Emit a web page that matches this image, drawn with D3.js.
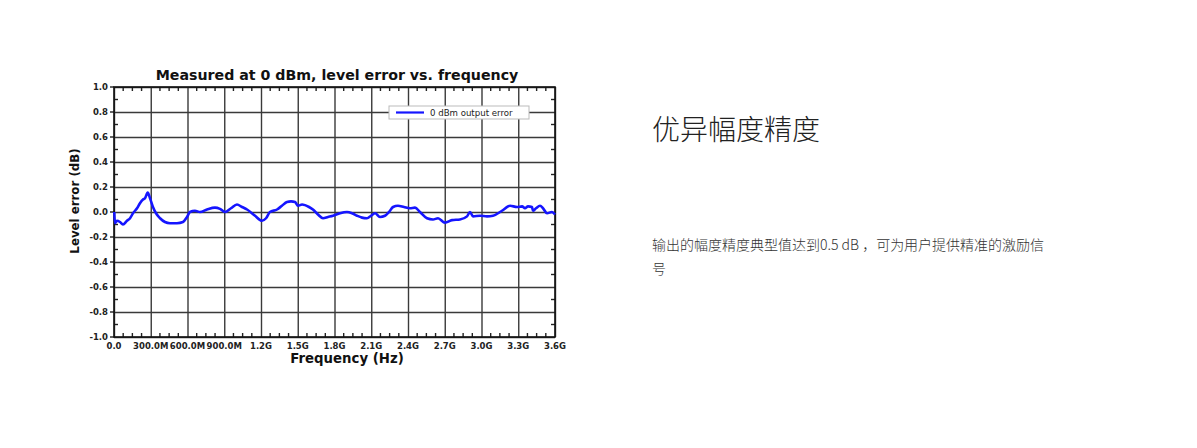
<!DOCTYPE html>
<html><head><meta charset="utf-8">
<script src="https://cdn.jsdelivr.net/npm/d3@7/dist/d3.min.js"></script>
<style>body{margin:0;background:#fff}svg{display:block}</style>
</head><body>
<svg id="c" width="1197" height="448"></svg>
<script>
const chartTitle = "Measured at 0 dBm, level error vs. frequency";
const xTitle = "Frequency (Hz)";
const yTitle = "Level error (dB)";
const seriesName = "0 dBm output error";
const freqMHz = [2,8,24,49,73,106,131,155,188,212,237,253,275,294,318,343,376,416,457,514,563,596,620,661,702,759,824,865,906,955,1004,1045,1086,1151,1208,1241,1273,1331,1371,1412,1445,1478,1502,1535,1559,1592,1624,1665,1706,1747,1788,1845,1902,1943,1984,2024,2065,2098,2131,2171,2212,2245,2278,2318,2367,2416,2457,2498,2555,2604,2645,2702,2759,2824,2882,2906,2931,2988,3045,3094,3167,3233,3290,3331,3355,3380,3412,3420,3445,3478,3502,3535,3575,3600];
const levelErr = [0.0,-0.09,-0.07,-0.08,-0.1,-0.07,-0.05,-0.01,0.03,0.07,0.1,0.11,0.155,0.11,0.04,-0.01,-0.05,-0.08,-0.09,-0.09,-0.08,-0.04,0.0,0.01,0.0,0.02,0.035,0.025,0.0,0.03,0.06,0.04,0.02,-0.03,-0.07,-0.05,0.0,0.02,0.05,0.08,0.085,0.08,0.05,0.06,0.055,0.04,0.02,-0.02,-0.05,-0.04,-0.03,-0.01,0.0,-0.01,-0.03,-0.045,-0.05,-0.03,-0.01,-0.04,-0.03,0.0,0.04,0.05,0.04,0.03,0.035,0.0,-0.05,-0.06,-0.05,-0.085,-0.065,-0.06,-0.035,0.0,-0.035,-0.03,-0.035,-0.03,0.01,0.05,0.04,0.045,0.03,0.045,0.04,0.01,0.03,0.05,0.03,-0.01,0.0,-0.02];
const xTicks = [0,300,600,900,1200,1500,1800,2100,2400,2700,3000,3300,3600];
const xTickLabels = ["0.0","300.0M","600.0M","900.0M","1.2G","1.5G","1.8G","2.1G","2.4G","2.7G","3.0G","3.3G","3.6G"];
const yTicks = [1.0,0.8,0.6,0.4,0.2,0.0,-0.2,-0.4,-0.6,-0.8,-1.0];
const yTickLabels = ["1.0","0.8","0.6","0.4","0.2","0.0","-0.2","-0.4","-0.6","-0.8","-1.0"];
const heading = "优异幅度精度";
const bodyLines = ["输出的幅度精度典型值达到0.5 dB ，可为用户提供精准的激励信","号"];

const svg = d3.select("#c");
const L=114, R=555, T=87, B=337;
const x = d3.scaleLinear().domain([0,3600]).range([L,R]);
const y = d3.scaleLinear().domain([-1,1]).range([B,T]);
const g = svg.append("g");
const F = "'DejaVu Sans', Verdana, sans-serif";

// grid
g.append("g").attr("transform",`translate(0,${B})`)
  .call(d3.axisBottom(x).tickValues(xTicks).tickSize(-(B-T)).tickFormat(""))
  .call(a=>{a.select(".domain").remove();a.selectAll("line").attr("stroke","#3a3a3a").attr("stroke-width",1.4);});
g.append("g").attr("transform",`translate(${L},0)`)
  .call(d3.axisLeft(y).tickValues(yTicks).tickSize(-(R-L)).tickFormat(""))
  .call(a=>{a.select(".domain").remove();a.selectAll("line").attr("stroke","#3a3a3a").attr("stroke-width",1.4);});

// minor ticks
const xMinor = d3.range(0,3600,75).filter(v=>v%300!==0);
const yMinor = d3.range(-9,10,2).map(v=>v/10);
[[B,-1],[T,1]].forEach(([yy,dir])=>{
  g.append("g").selectAll("line").data(xMinor).join("line")
   .attr("x1",d=>x(d)).attr("x2",d=>x(d)).attr("y1",yy).attr("y2",yy+dir*4)
   .attr("stroke","#222").attr("stroke-width",1.4);
});
[[L,1],[R,-1]].forEach(([xx,dir])=>{
  g.append("g").selectAll("line").data(yMinor).join("line")
   .attr("y1",d=>y(d)).attr("y2",d=>y(d)).attr("x1",xx).attr("x2",xx+dir*4)
   .attr("stroke","#222").attr("stroke-width",1.4);
});
g.append("g").selectAll("line").data(yTicks).join("line")
 .attr("x1",L-4).attr("x2",L).attr("y1",d=>y(d)).attr("y2",d=>y(d)).attr("stroke","#222").attr("stroke-width",1.4);

// frame
g.append("rect").attr("x",L).attr("y",T).attr("width",R-L).attr("height",B-T)
 .attr("fill","none").attr("stroke","#111").attr("stroke-width",1.6);

// tick labels
g.append("g").selectAll("text").data(yTicks).join("text")
 .attr("x",L-6).attr("y",d=>y(d)).attr("dy","0.35em").attr("text-anchor","end")
 .attr("font-family",F).attr("font-weight","bold").attr("font-size",8.5).attr("fill","#222")
 .text((d,i)=>yTickLabels[i]);
g.append("g").selectAll("text").data(xTicks).join("text")
 .attr("x",d=>x(d)).attr("y",B+12).attr("text-anchor","middle")
 .attr("font-family",F).attr("font-weight","bold").attr("font-size",8.5).attr("fill","#222")
 .text((d,i)=>xTickLabels[i]);

// titles
g.append("text").attr("x",337).attr("y",80).attr("text-anchor","middle")
 .attr("font-family",F).attr("font-weight","bold").attr("font-size",14.2).attr("fill","#111").text(chartTitle);
g.append("text").attr("x",347).attr("y",363).attr("text-anchor","middle")
 .attr("font-family",F).attr("font-weight","bold").attr("font-size",13.3).attr("fill","#111").text(xTitle);
g.append("text").attr("transform","translate(79,201) rotate(-90)").attr("text-anchor","middle")
 .attr("font-family",F).attr("font-weight","bold").attr("font-size",11.8).attr("fill","#111").text(yTitle);

// line
const data = freqMHz.map((f,i)=>[f,levelErr[i]]);
g.append("path").datum(data)
 .attr("d",d3.line().x(d=>x(d[0])).y(d=>y(d[1])).curve(d3.curveMonotoneX))
 .attr("fill","none").attr("stroke","#1515ff").attr("stroke-width",2.6).attr("stroke-linejoin","round");

// legend
const lg = g.append("g");
lg.append("rect").attr("x",389).attr("y",106).attr("width",140).attr("height",13)
 .attr("fill","#fff").attr("stroke","#bbb").attr("stroke-width",1);
lg.append("line").attr("x1",396).attr("x2",424).attr("y1",112.5).attr("y2",112.5)
 .attr("stroke","#1515ff").attr("stroke-width",2.2);
lg.append("text").attr("x",430).attr("y",112.5).attr("dy","0.35em")
 .attr("font-family",F).attr("font-size",8.6).attr("fill","#222").text(seriesName);

// right text
svg.append("text").attr("x",652).attr("y",140)
 .attr("font-family","'Noto Sans CJK SC', sans-serif").attr("font-weight",300)
 .attr("font-size",28).attr("fill","#222").text(heading);
svg.append("g").selectAll("text").data(bodyLines).join("text")
 .attr("x",652).attr("y",(d,i)=>250+i*24)
 .attr("font-family","'Noto Sans CJK SC', sans-serif").attr("font-weight",300)
 .attr("font-size",14).attr("fill","#333").text(d=>d);
</script>
</body></html>
